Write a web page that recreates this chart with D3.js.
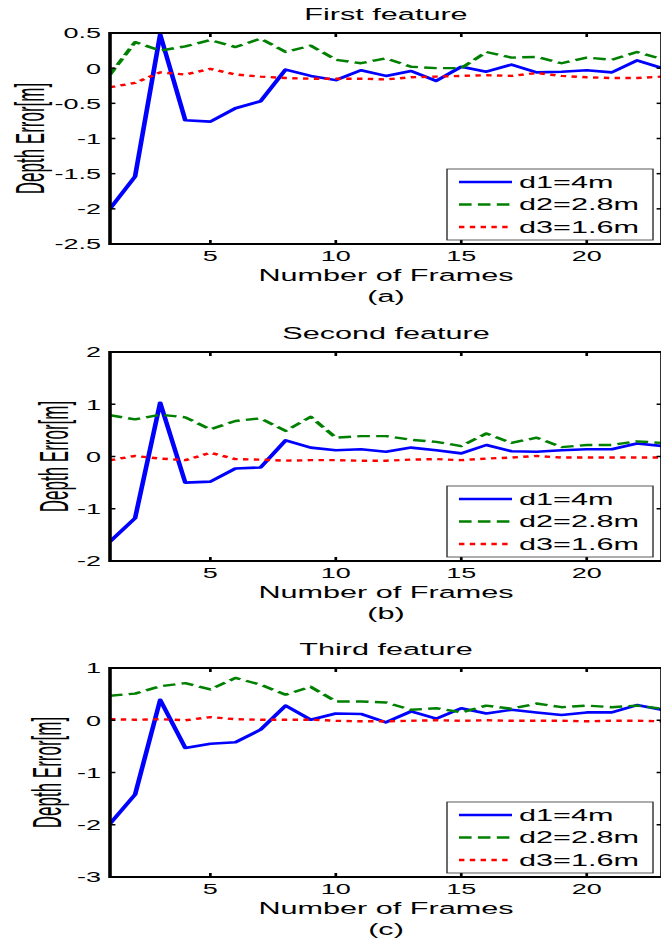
<!DOCTYPE html>
<html>
<head>
<meta charset="utf-8">
<script src="https://cdn.jsdelivr.net/npm/d3@7.9.0/dist/d3.min.js"></script>
<style>
  body { margin: 0; background: #fff; }
  svg { display: block; }
  text { font-family: "Liberation Sans", Arial, sans-serif; fill: #000; }
</style>
</head>
<body>
<div id="chart"></div>
<script>
// frame numbers on the x axis
const frames = [1, 2, 3, 4, 5, 6, 7, 8, 9, 10, 11, 12, 13, 14, 15, 16, 17, 18, 19, 20, 21, 22, 23];
const xTicks = [5, 10, 15, 20];
const seriesNames = ['d1=4m', 'd2=2.8m', 'd3=1.6m'];

// (a) first feature
const firstD1 = [-2.0, -1.54, 0.48, -0.74, -0.76, -0.57, -0.47, -0.02, -0.11, -0.17, -0.03, -0.11, -0.04, -0.18, 0.02, -0.05, 0.05, -0.06, -0.05, -0.03, -0.06, 0.11, 0.0];
const firstD2 = [-0.09, 0.37, 0.25, 0.31, 0.40, 0.30, 0.42, 0.23, 0.32, 0.12, 0.07, 0.14, 0.02, 0.0, 0.0, 0.23, 0.15, 0.16, 0.07, 0.15, 0.12, 0.23, 0.13];
const firstD3 = [-0.27, -0.21, -0.06, -0.09, -0.01, -0.09, -0.12, -0.14, -0.15, -0.15, -0.15, -0.16, -0.13, -0.12, -0.11, -0.10, -0.11, -0.07, -0.11, -0.13, -0.14, -0.14, -0.12];
const firstTicks = [0.5, 0, -0.5, -1, -1.5, -2, -2.5];

// (b) second feature
const secondD1 = [-1.63, -1.18, 1.03, -0.50, -0.48, -0.23, -0.21, 0.31, 0.17, 0.12, 0.14, 0.09, 0.17, 0.12, 0.06, 0.22, 0.10, 0.09, 0.12, 0.14, 0.14, 0.25, 0.20];
const secondD2 = [0.79, 0.71, 0.80, 0.75, 0.52, 0.68, 0.73, 0.49, 0.76, 0.36, 0.39, 0.39, 0.32, 0.28, 0.20, 0.44, 0.26, 0.36, 0.18, 0.22, 0.22, 0.29, 0.26];
const secondD3 = [-0.07, 0.01, -0.04, -0.07, 0.07, -0.05, -0.06, -0.08, -0.07, -0.07, -0.08, -0.08, -0.06, -0.05, -0.07, -0.04, -0.02, 0.01, -0.02, -0.02, -0.02, -0.02, -0.02];
const secondTicks = [2, 1, 0, -1, -2];

// (c) third feature
const thirdD1 = [-1.98, -1.42, 0.39, -0.53, -0.45, -0.42, -0.18, 0.28, 0.01, 0.13, 0.12, -0.04, 0.17, 0.03, 0.23, 0.13, 0.20, 0.15, 0.10, 0.15, 0.15, 0.29, 0.20];
const thirdD2 = [0.47, 0.51, 0.65, 0.71, 0.59, 0.81, 0.68, 0.49, 0.64, 0.36, 0.36, 0.34, 0.20, 0.23, 0.15, 0.28, 0.22, 0.32, 0.25, 0.28, 0.25, 0.28, 0.22];
const thirdD3 = [0.02, 0.01, 0.02, 0.0, 0.06, 0.02, 0.01, 0.01, 0.01, -0.01, -0.02, -0.02, -0.01, 0.0, -0.01, 0.0, -0.01, -0.01, -0.01, -0.02, -0.01, -0.01, -0.02];
const thirdTicks = [1, 0, -1, -2, -3];

const colors = ['#0000ff', '#008000', '#ff0000'];
const dashes = [null, '7,3.5', '3,3'];

// the source figure is stretched sideways; draw narrow and scale x
const S = 1.8;
const width = 661, height = 941;
const left = 110 / S, right = 662 / S;

const panels = [
  { title: 'First feature', tag: '(a)', top: 33, bottom: 244, ticks: firstTicks,
    domain: [-2.5, 0.5], labelX: 34, series: [firstD1, firstD2, firstD3] },
  { title: 'Second feature', tag: '(b)', top: 352, bottom: 561, ticks: secondTicks,
    domain: [-2, 2], labelX: 58, series: [secondD1, secondD2, secondD3] },
  { title: 'Third feature', tag: '(c)', top: 668, bottom: 877, ticks: thirdTicks,
    domain: [-3, 1], labelX: 51, series: [thirdD1, thirdD2, thirdD3] },
];

const svg = d3.select('#chart').append('svg')
  .attr('width', width)
  .attr('height', height);

const root = svg.append('g').attr('transform', `scale(${S},1)`);

const x = d3.scaleLinear().domain([1, 23]).range([left, right]);

panels.forEach((p, i) => {
  const y = d3.scaleLinear().domain(p.domain).range([p.bottom, p.top]);
  const g = root.append('g');
  const cx = (left + right) / 2;

  g.append('clipPath').attr('id', 'clip' + i)
    .append('rect')
    .attr('x', left).attr('y', p.top)
    .attr('width', right - left).attr('height', p.bottom - p.top);

  // data lines
  const line = d3.line().x((d, j) => x(frames[j])).y(d => y(d));
  const lines = g.append('g').attr('clip-path', `url(#clip${i})`);
  p.series.forEach((vals, k) => {
    lines.append('path')
      .datum(vals)
      .attr('d', line)
      .attr('fill', 'none')
      .attr('stroke', colors[k])
      .attr('stroke-width', k === 0 ? 2.6 : 2.4)
      .attr('stroke-dasharray', dashes[k])
      .attr('stroke-linejoin', 'round');
  });

  // ticks on all four sides, pointing in
  const tk = g.append('g').attr('stroke', '#000').attr('stroke-width', 1.5);
  xTicks.forEach(t => {
    tk.append('line').attr('x1', x(t)).attr('x2', x(t)).attr('y1', p.bottom).attr('y2', p.bottom - 4);
    tk.append('line').attr('x1', x(t)).attr('x2', x(t)).attr('y1', p.top).attr('y2', p.top + 4);
  });
  p.ticks.forEach(t => {
    tk.append('line').attr('x1', left).attr('x2', left + 3).attr('y1', y(t)).attr('y2', y(t));
    tk.append('line').attr('x1', right).attr('x2', right - 3).attr('y1', y(t)).attr('y2', y(t));
  });

  g.append('rect')
    .attr('x', left).attr('y', p.top)
    .attr('width', right - left).attr('height', p.bottom - p.top)
    .attr('fill', 'none').attr('stroke', '#000').attr('stroke-width', 2);

  // tick labels
  g.append('g').selectAll('text').data(xTicks).join('text')
    .attr('x', d => x(d)).attr('y', p.bottom + 17.5)
    .attr('text-anchor', 'middle').attr('font-size', 15)
    .text(d => d);
  g.append('g').selectAll('text').data(p.ticks).join('text')
    .attr('x', left - 5).attr('y', d => y(d) + 5.5)
    .attr('text-anchor', 'end').attr('font-size', 15)
    .text(d => String(d));

  // titles and labels
  g.append('text').attr('x', cx).attr('y', p.top - 13)
    .attr('text-anchor', 'middle').attr('font-size', 17).text(p.title);
  g.append('text').attr('x', cx).attr('y', p.bottom + 37)
    .attr('text-anchor', 'middle').attr('font-size', 17).text('Number of Frames');
  g.append('text').attr('x', cx).attr('y', p.bottom + 58)
    .attr('text-anchor', 'middle').attr('font-size', 17).text(p.tag);
  // y label reads a bit heavier than the rest in the source
  g.append('text')
    .attr('transform', `translate(${(p.labelX + 10) / S},${(p.top + p.bottom) / 2}) scale(1.3,1) rotate(-90)`)
    .attr('text-anchor', 'middle').attr('font-size', 17).text('Depth Error[m]');

  // legend, lower right
  const lw = 206 / S, lh = 71;
  const lx = right - 9 / S - lw, ly = p.bottom - 4 - lh;
  const leg = g.append('g').attr('transform', `translate(${lx},${ly})`);
  leg.append('rect').attr('width', lw).attr('height', lh)
    .attr('fill', '#fff').attr('stroke', '#333').attr('stroke-width', 0.8);
  seriesNames.forEach((name, k) => {
    const ry = 13 + k * 22.5;
    leg.append('line')
      .attr('x1', 12 / S).attr('x2', 65 / S).attr('y1', ry).attr('y2', ry)
      .attr('stroke', colors[k]).attr('stroke-width', 2.4)
      .attr('stroke-dasharray', dashes[k]);
    leg.append('text').attr('x', 72 / S).attr('y', ry + 6)
      .attr('font-size', 17).text(name);
  });
});
</script>
</body>
</html>
